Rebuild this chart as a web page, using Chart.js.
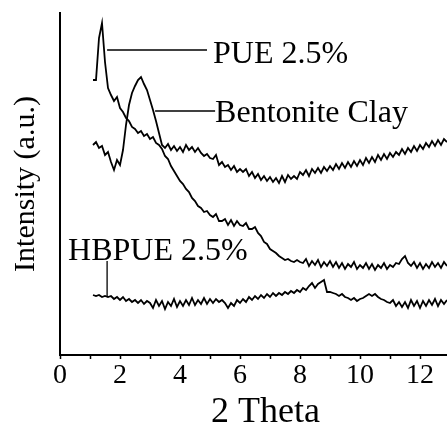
<!DOCTYPE html>
<html>
<head>
<meta charset="utf-8">
<title>XRD patterns</title>
<script src="https://cdn.jsdelivr.net/npm/chart.js@4.4.1/dist/chart.umd.min.js"></script>
<style>
  html, body { margin: 0; padding: 0; background: #fff; }
  #wrap { width: 447px; height: 426px; }
</style>
</head>
<body>
<div id="wrap"><canvas id="xrdChart"></canvas></div>
<script>
// 2 theta sampling (deg)
const twoTheta = [
  1.1, 1.2, 1.3, 1.4, 1.5, 1.6, 1.7, 1.8, 1.9, 2.0,
  2.1, 2.2, 2.3, 2.4, 2.5, 2.6, 2.7, 2.8, 2.9, 3.0,
  3.1, 3.2, 3.3, 3.4, 3.5, 3.6, 3.7, 3.8, 3.9, 4.0,
  4.1, 4.2, 4.3, 4.4, 4.5, 4.6, 4.7, 4.8, 4.9, 5.0,
  5.1, 5.2, 5.3, 5.4, 5.5, 5.6, 5.7, 5.8, 5.9, 6.0,
  6.1, 6.2, 6.3, 6.4, 6.5, 6.6, 6.7, 6.8, 6.9, 7.0,
  7.1, 7.2, 7.3, 7.4, 7.5, 7.6, 7.7, 7.8, 7.9, 8.0,
  8.1, 8.2, 8.3, 8.4, 8.5, 8.6, 8.7, 8.8, 8.9, 9.0,
  9.1, 9.2, 9.3, 9.4, 9.5, 9.6, 9.7, 9.8, 9.9, 10.0,
  10.1, 10.2, 10.3, 10.4, 10.5, 10.6, 10.7, 10.8, 10.9, 11.0,
  11.1, 11.2, 11.3, 11.4, 11.5, 11.6, 11.7, 11.8, 11.9, 12.0,
  12.1, 12.2, 12.3, 12.4, 12.5, 12.6, 12.7, 12.8, 12.9
];

// intensities (a.u., offset traces as plotted)
const pueIntensity = [
  275, 275, 317, 332, 293, 267, 260, 254, 258, 247,
  243, 237, 234, 228, 226, 222, 224, 219, 221, 216,
  218, 212, 210, 206, 199, 196, 189, 184, 179, 174,
  171, 166, 163, 157, 154, 149, 147, 143, 144, 140,
  138, 141, 134, 134, 136, 130, 135, 129, 134, 130,
  129, 132, 126, 126, 128, 122, 119, 113, 111, 106,
  104, 102, 99, 97, 95, 96, 94, 93, 95, 93,
  92, 96, 89, 94, 90, 95, 88, 93, 89, 94,
  88, 93, 87, 92, 86, 91, 88, 93, 86, 90,
  87, 92, 86, 91, 85, 90, 87, 92, 86, 90,
  88, 92, 91, 96, 99, 92, 89, 93, 87, 92,
  86, 91, 87, 93, 88, 92, 87, 93, 89
];

const clayIntensity = [
  210, 213, 207, 209, 200, 203, 193, 185, 195, 190,
  205, 230, 250, 262, 269, 275, 278, 271, 265, 255,
  245, 234, 222, 210, 207, 211, 205, 209, 204, 208,
  203, 210, 205, 208, 203, 207, 202, 199, 201, 197,
  196, 200, 190, 193, 188, 190, 185, 189, 183, 186,
  183, 186, 179, 183, 177, 181, 175, 179, 174, 178,
  173, 177, 172, 179, 173, 180, 176, 179, 176, 183,
  180, 185, 179, 186, 182, 187, 182, 188, 184, 189,
  185, 191, 186, 192, 187, 193, 188, 194, 189, 195,
  190, 197, 192, 198, 193, 200, 195, 201, 196, 202,
  198, 203, 200, 206, 201, 207, 203, 209, 204, 210,
  206, 212, 208, 214, 209, 215, 210, 216, 213
];

const hbpueIntensity = [
  60, 59, 60, 58, 59, 58, 59, 56, 58, 55,
  58, 54, 56, 53, 55, 52, 55, 51, 54, 52,
  47, 55, 49, 54, 46, 53, 49, 56, 48, 54,
  49, 55, 50, 57, 50, 55, 51, 57, 51, 56,
  52, 56, 53, 55, 52, 47, 52, 49, 55, 52,
  56, 53, 58, 55, 59, 56, 60, 57, 61, 58,
  62, 59, 62, 60, 63, 61, 64, 62, 65, 63,
  67, 65, 69, 72, 67, 71, 73, 75, 63, 63,
  62, 61, 59, 61, 58, 57, 55, 57, 54, 56,
  57, 59, 61, 59, 61, 58, 56, 55, 53, 52,
  55, 49, 53, 48, 53, 47, 55, 49, 54, 47,
  54, 49, 55, 50, 56, 49, 55, 51, 55
];

const xTickValues = [0, 1, 2, 3, 4, 5, 6, 7, 8, 9, 10, 11, 12];

// curve names and their leader lines, in data units
const curveLabels = [
  { text: 'PUE 2.5%', x: 5.1, y: 292 },
  { text: 'Bentonite Clay', x: 5.17, y: 233 },
  { text: 'HBPUE 2.5%', x: 0.27, y: 95 }
];
const leaderLines = [
  { x1: 1.57, y1: 305, x2: 4.9, y2: 305 },
  { x1: 3.17, y1: 244, x2: 5.17, y2: 244 },
  { x1: 1.57, y1: 94, x2: 1.57, y2: 59 }
];
const xAxisTitle = { text: '2 Theta', at: 6.85 };

const SERIF = '"Liberation Serif", "Times New Roman", serif';

function toPoints(values) {
  return values.map((v, i) => ({ x: twoTheta[i], y: v }));
}

const curveLabelPlugin = {
  id: 'curveLabels',
  afterDatasetsDraw(chart) {
    const { ctx, scales: { x, y } } = chart;
    ctx.save();
    ctx.strokeStyle = '#000';
    ctx.lineWidth = 1.3;
    leaderLines.forEach(l => {
      ctx.beginPath();
      ctx.moveTo(x.getPixelForValue(l.x1), y.getPixelForValue(l.y1));
      ctx.lineTo(x.getPixelForValue(l.x2), y.getPixelForValue(l.y2));
      ctx.stroke();
    });
    ctx.fillStyle = '#000';
    ctx.font = '32px ' + SERIF;
    ctx.textAlign = 'left';
    ctx.textBaseline = 'alphabetic';
    curveLabels.forEach(c => {
      ctx.fillText(c.text, x.getPixelForValue(c.x), y.getPixelForValue(c.y));
    });
    // x axis title sits a bit right of the plot centre in the original
    ctx.font = '36px ' + SERIF;
    ctx.textAlign = 'center';
    ctx.fillText(xAxisTitle.text, x.getPixelForValue(xAxisTitle.at), chart.height - 4);
    ctx.restore();
  }
};

function renderChart() {
  const ctx = document.getElementById('xrdChart');
  const line = { borderColor: '#000', borderWidth: 1.8, pointRadius: 0, tension: 0, fill: false };
  new Chart(ctx, {
    type: 'line',
    data: {
      datasets: [
        { label: 'PUE 2.5%', data: toPoints(pueIntensity), ...line },
        { label: 'Bentonite Clay', data: toPoints(clayIntensity), ...line },
        { label: 'HBPUE 2.5%', data: toPoints(hbpueIntensity), ...line }
      ]
    },
    options: {
      responsive: true,
      maintainAspectRatio: false,
      animation: false,
      layout: { padding: { top: 13, right: 0, bottom: 0, left: 0 } },
      plugins: { legend: { display: false }, tooltip: { enabled: false } },
      scales: {
        x: {
          type: 'linear',
          min: 0,
          max: 12.9,
          afterBuildTicks: s => { s.ticks = xTickValues.map(v => ({ value: v })); },
          afterFit: s => { s.height = 71; },
          ticks: {
            autoSkip: false,
            maxRotation: 0,
            padding: 3,
            color: '#000',
            font: { family: SERIF, size: 28, lineHeight: 1 },
            callback: v => (v % 2 === 0 ? String(v) : '')
          },
          grid: { display: true, drawOnChartArea: false, drawTicks: true, tickLength: 4, tickWidth: 1.5, tickColor: '#000' },
          border: { display: true, color: '#000', width: 2 },
          title: { display: false }
        },
        y: {
          min: 0,
          max: 342,
          afterFit: s => { s.width = 60; },
          ticks: { display: false },
          grid: { display: false },
          border: { display: true, color: '#000', width: 2 },
          title: {
            display: true,
            text: 'Intensity (a.u.)',
            color: '#000',
            font: { family: SERIF, size: 30, lineHeight: 1 },
            padding: { top: 11, bottom: 0 }
          }
        }
      }
    },
    plugins: [curveLabelPlugin]
  });
}

document.addEventListener('DOMContentLoaded', renderChart);
</script>
</body>
</html>
